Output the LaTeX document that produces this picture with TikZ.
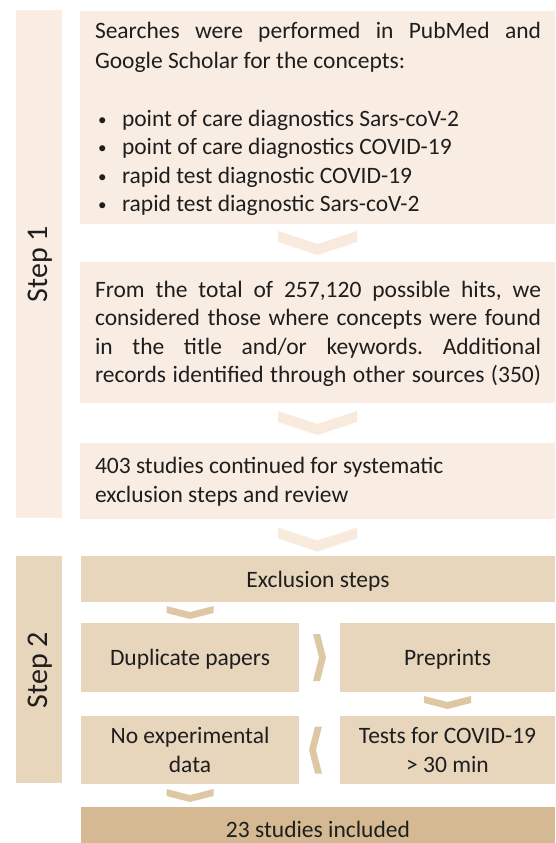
\documentclass[tikz,border=0pt]{standalone}
\usepackage{fontspec}
\setmainfont{Carlito}
\frenchspacing
\usetikzlibrary{calc}
\definecolor{stepone}{RGB}{249,237,227}
\definecolor{chevone}{RGB}{248,235,222}
\definecolor{steptwo}{RGB}{231,214,188}
\definecolor{chevtwo}{RGB}{222,200,164}
\definecolor{finalc}{RGB}{212,185,147}
\definecolor{ink}{RGB}{30,30,30}
\tikzset{
  boxA/.style={fill=stepone, inner sep=0pt, outer sep=0pt, anchor=north west},
  boxB/.style={fill=steptwo, inner sep=0pt, outer sep=0pt, anchor=north west},
  boxC/.style={fill=finalc, inner sep=0pt, outer sep=0pt, anchor=north west},
  txt/.style={inner sep=0pt, outer sep=0pt, text=ink, font=\fontsize{23.5}{28.7}\selectfont},
  bul/.style={inner sep=0pt, outer sep=0pt, text=ink, font=\fontsize{17}{20}\selectfont, anchor=base west},
  steplabel/.style={inner sep=0pt, outer sep=0pt, text=ink, font=\fontsize{30}{36}\selectfont, rotate=90, anchor=base},
  bigdown/.pic={\fill[chevone] (-39.5,-12) -- (0,1) -- (39.5,-12) -- (39.5,-1) -- (0,12) -- (-39.5,-1) -- cycle;},
  smalldown/.pic={\fill[chevtwo] (-23.5,-6.5) -- (0,-0.5) -- (23.5,-6.5) -- (23.5,0.5) -- (0,6.5) -- (-23.5,0.5) -- cycle;},
  rightchev/.pic={\fill[chevtwo] (-6.5,-23.5) -- (0.5,-23.5) -- (6.5,0) -- (0.5,23.5) -- (-6.5,23.5) -- (-0.5,0) -- cycle;},
  leftchev/.pic={\fill[chevtwo] (6.5,-23.5) -- (-0.5,-23.5) -- (-6.5,0) -- (-0.5,23.5) -- (6.5,23.5) -- (0.5,0) -- cycle;}
}
\begin{document}
\begin{tikzpicture}[x=1pt,y=-1pt]
\useasboundingbox (0,0) rectangle (555,843);
% step bars
\node[boxA, minimum width=46pt, minimum height=508pt] (s1) at (16,10) {};
\node[boxB, minimum width=46pt, minimum height=227pt] (s2) at (16,556) {};
\node[steplabel] (s1t) at (47,264) {Step 1};
\node[steplabel] (s2t) at (47,670) {Step 2};
% step 1 boxes
\node[boxA, minimum width=475pt, minimum height=213pt] (b1) at (80,11) {};
\node[boxA, minimum width=475pt, minimum height=141pt] (b2) at (80,262) {};
\node[boxA, minimum width=475pt, minimum height=76pt] (b3) at (80,443) {};
% step 2 boxes
\node[boxB, minimum width=474pt, minimum height=46pt] (ex) at (81,556) {};
\node[boxB, minimum width=218pt, minimum height=69pt] (dup) at (81,623) {};
\node[boxB, minimum width=215pt, minimum height=69pt] (pre) at (340,623) {};
\node[boxB, minimum width=218pt, minimum height=68pt] (noex) at (81,716) {};
\node[boxB, minimum width=215pt, minimum height=68pt] (tst) at (340,716) {};
\node[boxC, minimum width=474pt, minimum height=40pt] (fin) at (81,807) {};
% box 1 text
\node[txt, anchor=base west] (t1a) at (95,39) {\makebox[446pt][s]{Searches were performed in PubMed and}};
\node[txt, anchor=base west] (t1b) at (95,68) {Google Scholar for the concepts:};
\node[bul] (k1) at (98,125) {•};
\node[bul] (k2) at (98,153) {•};
\node[bul] (k3) at (98,182) {•};
\node[bul] (k4) at (98,210) {•};
\node[txt, anchor=base west] (i1) at (122,126) {point of care diagnostics Sars-coV-2};
\node[txt, anchor=base west] (i2) at (122,154) {point of care diagnostics COVID-19};
\node[txt, anchor=base west] (i3) at (122,183) {rapid test diagnostic COVID-19};
\node[txt, anchor=base west] (i4) at (122,211) {rapid test diagnostic Sars-coV-2};
% box 2 text
\node[txt, anchor=base west] (t2a) at (95,297) {\makebox[446pt][s]{From the total of 257,120 possible hits, we}};
\node[txt, anchor=base west] (t2b) at (95,325) {\makebox[446pt][s]{considered those where concepts were found}};
\node[txt, anchor=base west] (t2c) at (95,354) {\makebox[446pt][s]{in the title and/or keywords. Additional}};
\node[txt, anchor=base west] (t2d) at (95,382) {\makebox[446pt][s]{records identified through other sources (350)}};
% box 3 text
\node[txt, anchor=base west] (t3a) at (95,473) {403 studies continued for systematic};
\node[txt, anchor=base west] (t3b) at (95,502) {exclusion steps and review};
% step 2 text
\node[txt, anchor=base] (tex) at (318,587) {Exclusion steps};
\node[txt, anchor=base] (tdup) at (190,665) {Duplicate papers};
\node[txt, anchor=base] (tpre) at (447.5,665) {Preprints};
\node[txt, anchor=base] (tno1) at (190,743) {No experimental};
\node[txt, anchor=base] (tno2) at (190,772) {data};
\node[txt, anchor=base] (tts1) at (447.5,743) {Tests for COVID-19};
\node[txt, anchor=base] (tts2) at (447.5,772) {> 30 min};
\node[txt, anchor=base] (tfin) at (318,837) {23 studies included};
% chevrons
\coordinate (c1) at ($(b1.south)!0.5!(b2.north)$);
\coordinate (c2) at ($(b2.south)!0.5!(b3.north)$);
\coordinate (c3) at ($(b3.south)!0.5!(b3.south |- ex.north)$);
\pic at (c1) {bigdown};
\pic at (c2) {bigdown};
\pic at ([yshift=-2pt]c3) {bigdown};
\coordinate (d1) at ($(dup.north)!0.5!(dup.north |- ex.south)$);
\coordinate (d2) at ($(dup.east)!0.5!(pre.west)$);
\coordinate (d3) at ($(pre.south)!0.5!(tst.north)$);
\coordinate (d4) at ($(tst.west)!0.5!(noex.east)$);
\coordinate (d5) at ($(noex.south)!0.5!(noex.south |- fin.north)$);
\pic at (d1) {smalldown};
\pic at (d2) {rightchev};
\pic at ([yshift=1.5pt]d3) {smalldown};
\pic at ([xshift=-4pt]d4) {leftchev};
\pic at (d5) {smalldown};
\end{tikzpicture}
\end{document}
